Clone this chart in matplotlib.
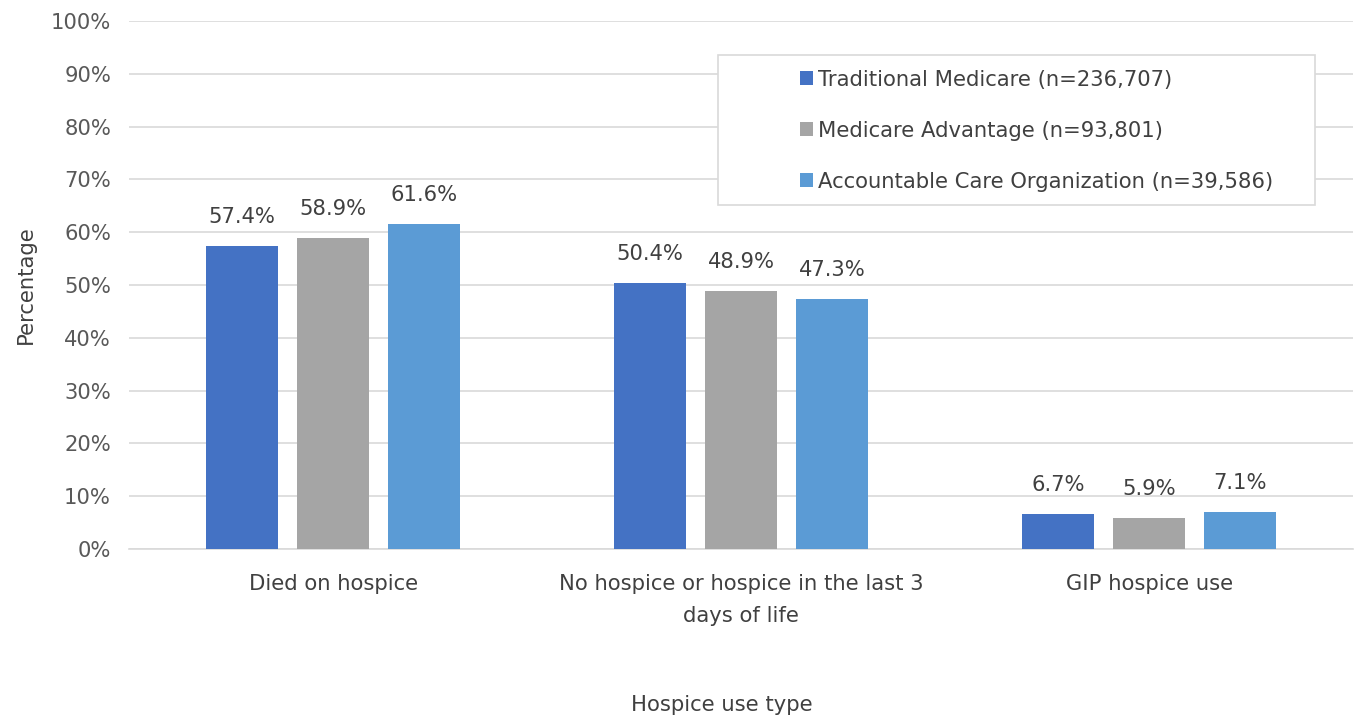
import matplotlib
matplotlib.use("Agg")
import matplotlib.pyplot as plt
import numpy as np
from matplotlib.patches import Patch, Rectangle

categories = ["Died on hospice", "No hospice or hospice in the last 3\ndays of life", "GIP hospice use"]
series_names = ["Traditional Medicare (n=236,707)", "Medicare Advantage (n=93,801)",
                "Accountable Care Organization (n=39,586)"]
traditional = [57.4, 50.4, 6.7]
advantage = [58.9, 48.9, 5.9]
aco = [61.6, 47.3, 7.1]
yticks = [0, 10, 20, 30, 40, 50, 60, 70, 80, 90, 100]

colors = ["#4472c4", "#a5a5a5", "#5b9bd5"]
plt.rcParams['font.family'] = ['DejaVu Sans']
txt = "#404040"
tick_c = "#595959"
fs = 15.2

fig = plt.figure(figsize=(13.6, 7.19), dpi=100)
ax = fig.add_axes([0.0949, 0.2364, 0.9, 0.7344])

x = np.arange(len(categories))
pitch = 0.223
width = 0.176
for i, (vals, c) in enumerate(zip([traditional, advantage, aco], colors)):
    pos = x + (i - 1) * pitch
    ax.bar(pos, vals, width=width, color=c, zorder=3)
    for p, v in zip(pos, vals):
        ax.text(p, v + 3.6, f"{v:.1f}%", ha="center", va="bottom", fontsize=fs, color=txt)

ax.set_xlim(-0.5, 2.5)
ax.set_ylim(0, 100)
ax.set_yticks(yticks)
ax.set_yticklabels([f"{t}%" for t in yticks], fontsize=fs, color=tick_c)
ax.set_xticks(x)
ax.set_xticklabels(categories, fontsize=fs, color=txt, linespacing=1.75)
ax.tick_params(axis="y", length=0, pad=13)
ax.tick_params(axis="x", length=0, pad=18)
ax.grid(axis="y", color="#d9d9d9", linewidth=1.2, zorder=0)
for s in ["top", "right", "left"]:
    ax.spines[s].set_visible(False)
ax.spines["bottom"].set_color("#d9d9d9")
ax.spines["bottom"].set_linewidth(1.2)

ax.set_ylabel("Percentage", fontsize=fs, color=txt, labelpad=11)
fig.text(0.531, 0.0195, "Hospice use type", ha="center", va="center", fontsize=fs, color=txt)

# legend frame
ax.add_patch(Rectangle((0.481, 0.6515), 0.488, 0.284, transform=ax.transAxes,
                       facecolor="white", edgecolor="#d9d9d9", linewidth=1.2, zorder=4))
handles = [Patch(facecolor=c) for c in colors]
leg = ax.legend(handles, series_names, loc="upper left", bbox_to_anchor=(0.5485, 0.908),
                fontsize=fs, frameon=False, handlelength=0.6, handleheight=0.6,
                handletextpad=0.25, labelspacing=1.47, borderpad=0, borderaxespad=0)
leg.set_zorder(5)
for t in leg.get_texts():
    t.set_color(txt)

fig.savefig("out.png", dpi=100, facecolor="white")
